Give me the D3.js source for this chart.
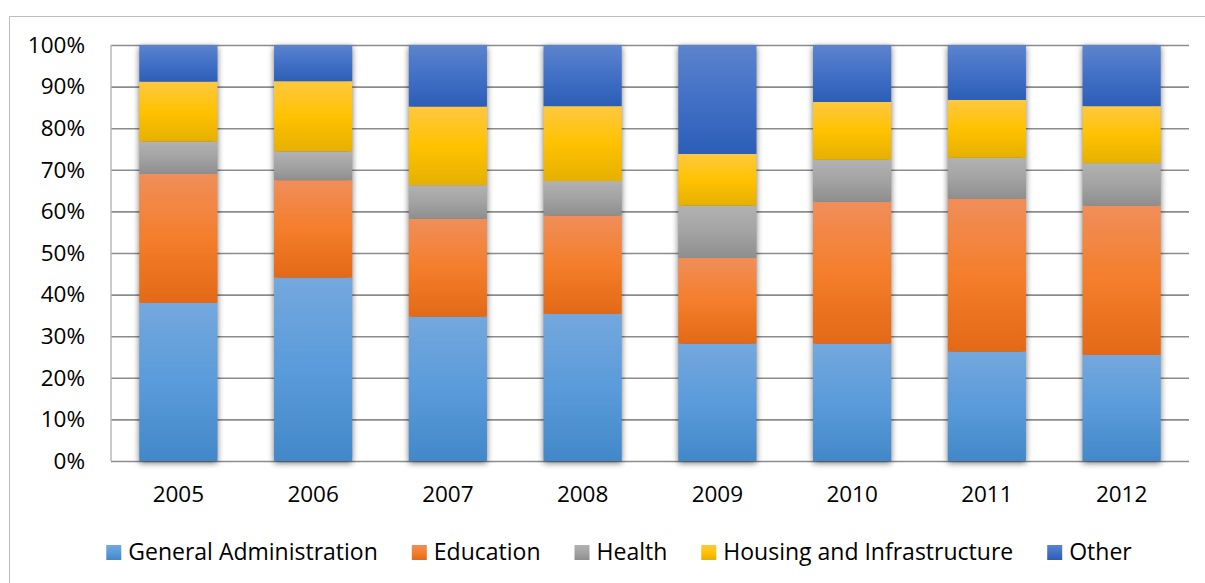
<!DOCTYPE html>
<html>
<head>
<meta charset="utf-8">
<script src="https://cdn.jsdelivr.net/npm/d3@7"></script>
<style>
  html, body { margin: 0; padding: 0; background: #ffffff; }
  svg { display: block; }
  text { font-family: "Open Sans", Lato, sans-serif; fill: #000; }
</style>
</head>
<body>
<svg id="chart" width="1205" height="583"></svg>
<script>
// ---- data ----
const years = ["2005", "2006", "2007", "2008", "2009", "2010", "2011", "2012"];
const seriesNames = ["General Administration", "Education", "Health", "Housing and Infrastructure", "Other"];
const generalAdministration = [38.0, 44.1, 34.7, 35.4, 28.2, 28.2, 26.3, 25.5];
const education            = [31.0, 23.4, 23.5, 23.6, 20.6, 34.1, 36.7, 35.9];
const health               = [ 7.8,  6.9,  8.1,  8.3, 12.6, 10.1,  9.9, 10.2];
const housing              = [14.4, 16.9, 18.9, 18.0, 12.4, 13.9, 13.9, 13.7];
const other                = [ 8.8,  8.7, 14.8, 14.7, 26.2, 13.7, 13.2, 14.7];
const yTicks = [0, 10, 20, 30, 40, 50, 60, 70, 80, 90, 100];

const seriesValues = [generalAdministration, education, health, housing, other];
const gradients = [
  ["#74a8dd", "#5a9bdb", "#4288c8"],
  ["#f08e5a", "#f47e2b", "#e36916"],
  ["#b2b2b2", "#a3a3a3", "#8e8e8e"],
  ["#ffc840", "#ffc200", "#e5b000"],
  ["#5c84cd", "#4270c6", "#2c5eb6"]
];
const FONT = "'Open Sans', Lato, sans-serif";

const svg = d3.select("#chart");
const defs = svg.append("defs");
gradients.forEach((g, i) => {
  const lg = defs.append("linearGradient").attr("id", "grad" + i)
    .attr("x1", 0).attr("y1", 0).attr("x2", 0).attr("y2", 1);
  lg.append("stop").attr("offset", "0%").attr("stop-color", g[0]);
  lg.append("stop").attr("offset", "50%").attr("stop-color", g[1]);
  lg.append("stop").attr("offset", "100%").attr("stop-color", g[2]);
});
const f = defs.append("filter").attr("id", "shadow")
  .attr("x", "-20%").attr("y", "-5%").attr("width", "140%").attr("height", "115%");
f.append("feGaussianBlur").attr("in", "SourceAlpha").attr("stdDeviation", 3).attr("result", "b");
f.append("feOffset").attr("in", "b").attr("dx", 0).attr("dy", 1.5).attr("result", "o");
f.append("feComponentTransfer").attr("in", "o").append("feFuncA").attr("type", "linear").attr("slope", 0.55);

// outer chart frame
svg.append("path").attr("d", "M9.5,583 V16.5 H1205")
  .attr("fill", "none").attr("stroke", "#bcbcbc").attr("stroke-width", 1);

const margin = { left: 111, top: 45, right: 1189, bottom: 461 };

const x = d3.scaleBand().domain(years).range([margin.left, margin.right]).paddingInner(0.42).paddingOuter(0.21);
const y = d3.scaleLinear().domain([0, 100]).range([margin.bottom, margin.top]);

// gridlines + y axis
const yAxis = d3.axisLeft(y).tickValues(yTicks).tickFormat(d => d + "%")
  .tickSize(-(margin.right - margin.left)).tickPadding(26);
const gy = svg.append("g").attr("transform", `translate(${margin.left},0)`).call(yAxis);
gy.select(".domain").remove();
gy.selectAll(".tick line").attr("stroke", "#8c8c8c").attr("stroke-width", 1.6);
gy.selectAll(".tick text").attr("font-size", 22.5).attr("fill", "#000")
  .style("font-family", FONT);
svg.append("line").attr("x1", margin.left).attr("x2", margin.left)
  .attr("y1", margin.top).attr("y2", margin.bottom)
  .attr("stroke", "#b8b8b8").attr("stroke-width", 1.5);

// stacked data
const table = years.map((yr, i) => {
  const row = { year: yr };
  seriesNames.forEach((s, k) => row[s] = seriesValues[k][i]);
  return row;
});
const stack = d3.stack().keys(seriesNames)(table);

// shadows beneath full bars
svg.append("g").selectAll("rect").data(table).join("rect")
  .attr("x", d => x(d.year))
  .attr("width", x.bandwidth())
  .attr("y", d => y(d3.sum(seriesNames, s => d[s])))
  .attr("height", d => y(0) - y(d3.sum(seriesNames, s => d[s])))
  .attr("fill", "#000")
  .attr("filter", "url(#shadow)");

svg.append("g").selectAll("g").data(stack).join("g")
  .attr("fill", (d, i) => `url(#grad${i})`)
  .selectAll("rect").data(d => d).join("rect")
  .attr("x", d => x(d.data.year))
  .attr("width", x.bandwidth())
  .attr("y", d => y(d[1]))
  .attr("height", d => y(d[0]) - y(d[1]));

// x axis labels
const xAxis = d3.axisBottom(x).tickSize(0).tickPadding(25);
const gx = svg.append("g").attr("transform", `translate(0,${margin.bottom})`).call(xAxis);
gx.select(".domain").remove();
gx.selectAll(".tick text").attr("font-size", 22.5).attr("fill", "#000")
  .style("font-family", FONT);

// legend
const legend = svg.append("g");
const legendBase = 560;
const sw = 15, swGap = 7, itemGap = 34;
let cx = 0;
seriesNames.forEach((name, i) => {
  const g = legend.append("g");
  g.append("rect").attr("x", 0).attr("y", legendBase - 15).attr("width", sw).attr("height", sw)
    .attr("fill", `url(#grad${i})`);
  const t = g.append("text").attr("x", sw + swGap).attr("y", legendBase)
    .attr("font-size", 23).text(name);
  const w = sw + swGap + t.node().getComputedTextLength();
  g.attr("transform", `translate(${cx},0)`);
  cx += w + itemGap;
});
const totalW = cx - itemGap;
legend.attr("transform", `translate(${619 - totalW / 2},0)`);
</script>
</body>
</html>
